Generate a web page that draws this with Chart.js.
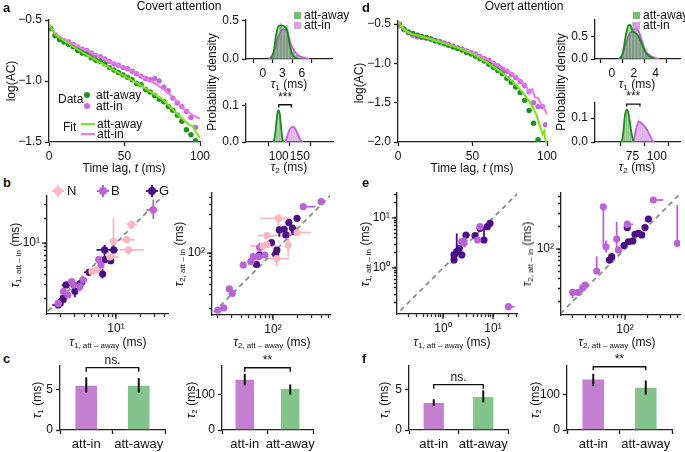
<!DOCTYPE html>
<html>
<head>
<meta charset="utf-8">
<title>Timescales: covert and overt attention</title>
<script src="https://cdn.jsdelivr.net/npm/chart.js@4"></script>
<style>
  body { margin:0; background:#fff; width:685px; height:452px; overflow:hidden; position:relative;
         font-family:'Liberation Sans', Arial, sans-serif; color:#111; }
  canvas { position:absolute; }
  .t { position:absolute; font-size:12px; white-space:nowrap; line-height:1; }
  .v { transform:translate(-50%,-50%) rotate(-90deg); }
  .c { transform:translateX(-50%); }
  .lt { font-weight:bold; font-size:13px; }
  .t sub { font-size:8px; vertical-align:-2px; }
  .m { position:absolute; }
</style>
</head>
<body>
<canvas id="cA"></canvas><canvas id="cHA1"></canvas><canvas id="cHA2"></canvas>
<canvas id="cD"></canvas><canvas id="cHD1"></canvas><canvas id="cHD2"></canvas>
<canvas id="cB1"></canvas><canvas id="cB2"></canvas><canvas id="cE1"></canvas><canvas id="cE2"></canvas>
<canvas id="cC1"></canvas><canvas id="cC2"></canvas><canvas id="cF1"></canvas><canvas id="cF2"></canvas>

<!-- panel letters and titles -->
<div class="t lt" style="left:3px;top:1px">a</div>
<div class="t c" style="left:179px;top:0px">Covert attention</div>
<div class="t lt" style="left:362px;top:1px">d</div>
<div class="t c" style="left:524px;top:0px">Overt attention</div>
<div class="t lt" style="left:3px;top:176px">b</div>
<div class="t lt" style="left:362px;top:176px">e</div>
<div class="t lt" style="left:3px;top:352px">c</div>
<div class="t lt" style="left:362px;top:352px">f</div>

<!-- a / d axis titles -->
<div class="t v" style="left:11px;top:81px">log(AC)</div>
<div class="t c" style="left:124px;top:162px">Time lag, <i>t</i> (ms)</div>
<div class="t v" style="left:212px;top:82px">Probability density</div>
<div class="t c" style="left:289px;top:78px"><i>τ</i><sub>1</sub> (ms)</div>
<div class="t c" style="left:289px;top:161px"><i>τ</i><sub>2</sub> (ms)</div>
<div class="t v" style="left:359px;top:83px">log(AC)</div>
<div class="t c" style="left:472px;top:162px">Time lag, <i>t</i> (ms)</div>
<div class="t v" style="left:561px;top:82px">Probability density</div>
<div class="t c" style="left:637px;top:78px"><i>τ</i><sub>1</sub> (ms)</div>
<div class="t c" style="left:637px;top:161px"><i>τ</i><sub>2</sub> (ms)</div>

<!-- a legend -->
<div class="t" style="left:58px;top:93px">Data</div>
<span class="m" style="left:84px;top:92px;width:6px;height:6px;border-radius:50%;background:#1f8f1f"></span>
<div class="t" style="left:96px;top:89px">att-away</div>
<span class="m" style="left:84px;top:103px;width:6px;height:6px;border-radius:50%;background:#bf6bd9"></span>
<div class="t" style="left:96px;top:100px">att-in</div>
<div class="t" style="left:63px;top:121px">Fit</div>
<span class="m" style="left:81px;top:123px;width:14px;height:2px;background:#7be31a"></span>
<div class="t" style="left:97px;top:118px">att-away</div>
<span class="m" style="left:81px;top:133px;width:14px;height:2px;background:#ee77ee"></span>
<div class="t" style="left:97px;top:128px">att-in</div>

<!-- histogram legends -->
<span class="m" style="left:294px;top:12px;width:7px;height:7px;background:rgba(70,170,70,0.75)"></span>
<div class="t" style="left:304px;top:9px">att-away</div>
<span class="m" style="left:294px;top:22px;width:7px;height:7px;background:rgba(205,130,225,0.75)"></span>
<div class="t" style="left:304px;top:19px">att-in</div>
<span class="m" style="left:633px;top:12px;width:7px;height:7px;background:rgba(70,170,70,0.75)"></span>
<div class="t" style="left:643px;top:9px">att-away</div>
<span class="m" style="left:633px;top:22px;width:7px;height:7px;background:rgba(205,130,225,0.75)"></span>
<div class="t" style="left:643px;top:19px">att-in</div>

<!-- b legend -->
<span class="m" style="left:52px;top:190px;width:12px;height:2px;background:#ffb6c1"></span>
<span class="m" style="left:57px;top:185px;width:2px;height:12px;background:#ffb6c1"></span>
<span class="m" style="left:54px;top:187px;width:8px;height:8px;border-radius:50%;background:#ffb6c1"></span>
<div class="t" style="left:67px;top:184px;font-size:13px">N</div>
<span class="m" style="left:97px;top:190px;width:12px;height:2px;background:#b963d6"></span>
<span class="m" style="left:102px;top:185px;width:2px;height:12px;background:#b963d6"></span>
<span class="m" style="left:99px;top:187px;width:8px;height:8px;border-radius:50%;background:#b963d6"></span>
<div class="t" style="left:111px;top:184px;font-size:13px">B</div>
<span class="m" style="left:146px;top:190px;width:12px;height:2px;background:#4b0d86"></span>
<span class="m" style="left:151px;top:185px;width:2px;height:12px;background:#4b0d86"></span>
<span class="m" style="left:148px;top:187px;width:8px;height:8px;border-radius:50%;background:#4b0d86"></span>
<div class="t" style="left:159px;top:184px;font-size:13px">G</div>

<!-- b / e axis titles -->
<div class="t v" style="left:16px;top:255px"><i>τ</i><sub>1, att – in</sub> (ms)</div>
<div class="t c" style="left:108px;top:336px"><i>τ</i><sub>1, att – away</sub> (ms)</div>
<div class="t v" style="left:180px;top:254px"><i>τ</i><sub>2, att – in</sub> (ms)</div>
<div class="t c" style="left:272px;top:336px"><i>τ</i><sub>2, att – away</sub> (ms)</div>
<div class="t v" style="left:366px;top:254px"><i>τ</i><sub>1, att – in</sub> (ms)</div>
<div class="t c" style="left:452px;top:336px"><i>τ</i><sub>1, att – away</sub> (ms)</div>
<div class="t v" style="left:528px;top:254px"><i>τ</i><sub>2, att – in</sub> (ms)</div>
<div class="t c" style="left:617px;top:336px"><i>τ</i><sub>2, att – away</sub> (ms)</div>

<!-- c / f axis titles -->
<div class="t v" style="left:38px;top:400px"><i>τ</i><sub>1</sub> (ms)</div>
<div class="t v" style="left:192px;top:400px"><i>τ</i><sub>2</sub> (ms)</div>
<div class="t v" style="left:385px;top:400px"><i>τ</i><sub>1</sub> (ms)</div>
<div class="t v" style="left:536px;top:400px"><i>τ</i><sub>2</sub> (ms)</div>

<script>
// ---------- data: log autocorrelation, covert (a) ----------
const a_t = [1,4,7,10,13,16,19,22,25,28,31,34,37,40,43,46,49,52,55,58,61,64,67,70,73,76,79,82,85,88,91,94,97];
const a_away = [-0.57,-0.63,-0.66,-0.68,-0.70,-0.72,-0.75,-0.77,-0.78,-0.81,-0.83,-0.84,-0.86,-0.89,-0.91,-0.93,-0.95,-0.97,-0.99,-1.02,-1.03,-1.07,-1.09,-1.12,-1.15,-1.17,-1.21,-1.24,-1.28,-1.33,-1.40,-1.44,-1.49];
const a_in = [-0.57,-0.62,-0.65,-0.67,-0.68,-0.70,-0.72,-0.74,-0.75,-0.77,-0.79,-0.80,-0.82,-0.84,-0.86,-0.87,-0.89,-0.90,-0.92,-0.94,-0.96,-0.98,-0.99,-0.98,-1.00,-1.05,-1.08,-1.14,-1.18,-1.21,-1.25,-1.30,-1.38];
const a_ft = [0,2,5,10,20,30,40,50,60,70,75,80,85,90,93,95,97,100];
const a_fit_away = [-0.53,-0.58,-0.63,-0.67,-0.75,-0.82,-0.89,-0.96,-1.03,-1.11,-1.15,-1.21,-1.27,-1.33,-1.36,-1.37,-1.41,-1.47];
const a_fit_in = [-0.54,-0.58,-0.62,-0.66,-0.72,-0.78,-0.84,-0.89,-0.95,-1.02,-1.06,-1.11,-1.17,-1.24,-1.26,-1.28,-1.29,-1.31];

// ---------- data: log autocorrelation, overt (d) ----------
const d_t_away = [1,4,7,10,13,16,19,22,25,28,31,34,37,40,43,46,49,52,55,58,61,64,67,70,73,76,79,82,85,88,91,94];
const d_away = [-0.50,-0.56,-0.60,-0.62,-0.64,-0.66,-0.67,-0.69,-0.71,-0.73,-0.75,-0.77,-0.79,-0.81,-0.83,-0.86,-0.88,-0.91,-0.94,-0.97,-1.01,-1.05,-1.09,-1.13,-1.19,-1.24,-1.30,-1.37,-1.47,-1.60,-1.76,-1.97];
const d_t_in = [1,4,7,10,13,16,19,22,25,28,31,34,37,40,43,46,49,52,55,58,61,64,67,70,73,76,79,82,85,88,91,94,97,99];
const d_in = [-0.52,-0.57,-0.61,-0.64,-0.66,-0.67,-0.68,-0.69,-0.71,-0.72,-0.74,-0.76,-0.78,-0.80,-0.82,-0.84,-0.86,-0.88,-0.91,-0.94,-0.96,-1.00,-1.03,-1.07,-1.10,-1.14,-1.18,-1.23,-1.28,-1.36,-1.50,-1.55,-1.55,-1.78];
const d_ft_away = [0,2,4,7,10,20,30,40,50,60,70,75,80,85,90,93,95,97,98,99,100];
const d_fit_away = [-0.44,-0.52,-0.57,-0.61,-0.63,-0.68,-0.74,-0.80,-0.88,-0.99,-1.12,-1.20,-1.29,-1.40,-1.54,-1.66,-1.78,-1.90,-1.86,-1.98,-2.05];
const d_ft_in = [0,2,5,10,20,30,40,50,60,70,75,80,84,86,88,90,92,94,96,98,100];
const d_fit_in = [-0.47,-0.53,-0.58,-0.63,-0.68,-0.73,-0.79,-0.86,-0.95,-1.05,-1.11,-1.18,-1.25,-1.28,-1.38,-1.33,-1.43,-1.44,-1.52,-1.56,-1.65];

// ---------- data: histograms + density curves ----------
const ha1_bx = [1.25,1.75,2.25,2.75,3.25,3.75,4.25,4.75,5.25,5.75,6.25];
const ha1_away = [0.02,0.10,0.30,0.44,0.32,0.45,0.22,0.10,0.06,0.02,0.005];
const ha1_in = [0.02,0.08,0.24,0.48,0.38,0.32,0.18,0.10,0.06,0.04,0.02];
const ha1_kx_away = [1.2,1.7,2.0,2.4,2.9,3.4,3.8,4.1,4.5,5.2,5.8];
const ha1_k_away = [0,0.11,0.30,0.43,0.44,0.42,0.36,0.20,0.07,0.01,0];
const ha1_kx_in = [1.0,1.7,2.2,2.75,3.25,3.8,4.3,4.8,5.5,6.2,7.2];
const ha1_k_in = [0,0.09,0.25,0.36,0.39,0.34,0.20,0.11,0.045,0.02,0.005];

const ha2_bx_away = [90,94,98,102,106,110];
const ha2_away = [0.01,0.05,0.09,0.08,0.03,0.005];
const ha2_bx_in = [118,122,126,130,134,138,142,146,150,154];
const ha2_in = [0.01,0.02,0.035,0.04,0.048,0.04,0.03,0.02,0.01,0.005];
const ha2_kx_away = [88,92,95,98,100,102.8,106,109,112];
const ha2_k_away = [0,0.025,0.062,0.085,0.087,0.075,0.035,0.007,0];
const ha2_kx_in = [116,120,126,132,138,144,150,156];
const ha2_k_in = [0,0.016,0.035,0.042,0.039,0.025,0.009,0.001];

const hd1_bx = [1.05,1.35,1.65,1.95,2.25,2.55,2.85,3.15,3.45,3.75];
const hd1_away = [0.08,0.40,0.62,0.83,0.55,0.50,0.38,0.25,0.10,0.04];
const hd1_in = [0.05,0.35,0.55,0.62,0.70,0.58,0.42,0.18,0.08,0.04];
const hd1_kx_away = [0.7,1.0,1.27,1.5,1.68,1.88,2.1,2.4,2.7,3.1,3.5,3.9];
const hd1_k_away = [0,0.14,0.52,0.74,0.76,0.63,0.59,0.52,0.36,0.14,0.05,0.01];
const hd1_kx_in = [0.6,1.0,1.3,1.6,1.9,2.2,2.5,2.8,3.1,3.5,4.0,4.3];
const hd1_k_in = [0,0.10,0.36,0.55,0.63,0.68,0.59,0.36,0.17,0.08,0.02,0];

const hd2_bx_away = [63,65,67,69,71,73,75];
const hd2_away = [0.005,0.025,0.09,0.14,0.12,0.07,0.02];
const hd2_bx_in = [77,79,81,83,85,87,89,91,93,95];
const hd2_in = [0.02,0.06,0.10,0.085,0.07,0.065,0.055,0.04,0.025,0.01];
const hd2_kx_away = [63.5,65.2,67,68.7,70.4,72,73.8,75.5,77.2];
const hd2_k_away = [0,0.024,0.10,0.135,0.128,0.093,0.044,0.01,0];
const hd2_kx_in = [74.7,76.4,79,81.5,83.2,86.6,90,92.6,95.2,97];
const hd2_k_in = [0,0.01,0.058,0.086,0.082,0.068,0.051,0.03,0.01,0];

// ---------- data: per-session timescales  [x, y, xLo, xHi, yLo, yHi] ----------
const bL_N = [[15.6,17.1,13.5,18.5,null,null],[9.3,10.5,null,null,6.7,20.3],[13.6,11.0,10.8,17,null,null],
  [14.3,8.2,11,22.5,7.2,9.2],[8.4,6.7,7.4,10.8,null,null],[5.7,4.6,4.8,6.8,null,null],[5.0,4.4,null,null,null,null]];
const bL_B = [[2.2,2.47,null,null,2.1,2.8],[2.8,3.29,2.5,3.1,null,null],[3.55,2.85,null,null,2.5,3.2],[2.93,2.99,null,null,null,null],
  [6.1,6.2,5.5,6.8,null,null],[6.5,5.3,null,null,null,null],[29.3,25.9,24,33,20,35],[3.9,3.45,3.5,4.4,null,null],
  [2.5,2.24,null,null,null,null],[1.9,1.75,null,null,null,null]];
const bL_G = [[2.04,1.85,1.75,2.4,1.6,2.2],[2.2,2.03,null,null,1.8,2.4],[2.38,2.99,2.1,2.8,null,null],[3.07,2.5,null,null,2.1,2.9],
  [3.55,3.1,3.0,4.1,null,null],[4.6,4.3,4.0,5.3,null,null],[6.8,4.1,null,null,3.6,4.8],[7.2,6.2,5.8,8.3,null,null],
  [8.6,6.0,null,null,null,null],[7.2,8.2,5.7,9.3,6.8,9.5],[9.4,8.2,8.2,10.5,null,null],[1.9,1.68,1.6,2.2,null,null]];

const bR_N = [[117,271,69,166,210,310],[200,180,130,300,null,null],[75,122,52,110,null,null],[111,85,80,160,68,115],
  [84,165,65,150,null,null],[155,125,null,null,90,170],[84,128,null,null,null,null]];
const bR_B = [[20.5,19.4,null,null,null,null],[24.3,20.6,null,null,null,null],[28.5,35.6,null,null,null,null],[31,31.3,null,null,null,null],
  [42.5,70.8,null,null,null,null],[53,78,null,null,null,null],[56.7,90,null,null,80,100],[68,117,null,null,100,135],
  [79.4,94.4,null,null,null,null],[239,379,225,340,null,null],[400,438,null,null,null,null],[66,90,null,null,null,null]];
const bR_G = [[62,72,null,null,null,null],[68,94,null,null,null,null],[96,135,null,null,null,null],[108,96,null,null,null,null],
  [112,109,null,null,null,null],[120,194,null,null,160,215],[138,198,null,null,null,null],[145,168,null,null,null,null],
  [158,240,null,null,null,null],[175,205,null,null,null,null],[186,185,null,null,null,null],[200,271,null,null,null,null]];

const eL_B = [[2.37,3.36,null,null,null,null],[2.55,3.12,null,null,null,null],[2.63,3.47,null,null,null,null],
  [4.94,3.63,null,null,null,null],[5.5,6.7,null,null,5.5,7.5],[20.3,0.168,20.3,27,null,null]];
const eL_G = [[1.66,1.45,1.5,1.9,null,null],[1.66,1.82,null,null,null,null],[1.88,2.12,null,null,1.68,4.9],[2.12,2.47,null,null,null,null],
  [2.88,4.57,2.5,3.4,null,null],[4.37,4.44,null,null,null,null],[6.6,3.63,null,null,3.2,6.5],[7.7,6.7,null,null,null,null],
  [8.7,7.8,null,null,null,null],[5.5,6.2,null,null,null,null],[2.37,1.82,2.1,2.7,null,null]];

const eR_B = [[20,26.4,null,null,22,29],[23.9,26.4,null,null,null,null],[27.3,30.5,null,null,null,null],[29.3,33.1,null,null,null,null],
  [41.9,50.9,null,null,50.9,80],[51.4,366,null,null,110,366],[55.8,107,null,null,90,130],[77.4,136,null,null,100,230],
  [81.5,97,null,null,null,null],[107,213,107,128,190,240],[239,450,239,324,null,null],[498,119,null,null,119,386]];
const eR_G = [[61.8,71.3,null,null,null,null],[66.4,79,null,null,null,null],[97,111,null,null,null,null],[111,125,null,null,null,null],
  [107,193,null,null,null,null],[136,157,null,null,null,null],[151,162,null,null,null,null],[167,154,null,null,null,null],
  [185,193,null,null,null,null],[205,251,null,null,null,null],[127,128,null,null,null,null]];

// ---------- data: mean timescales (bars) ----------
const conds = ['att-in', 'att-away'];
const c_tau1 = [5.6, 5.6], c_tau1_lo = [4.6, 4.6], c_tau1_hi = [6.5, 6.4];
const c_tau2 = [145, 119], c_tau2_lo = [126, 100], c_tau2_hi = [159, 129];
const f_tau1 = [3.45, 4.2], f_tau1_lo = [3.0, 3.4], f_tau1_hi = [3.8, 4.9];
const f_tau2 = [146, 122], f_tau2_lo = [124, 100], f_tau2_hi = [159, 140];

// ---------- helpers ----------
const FONT = "'Liberation Sans', Arial, sans-serif";
const AX = '#222';
const GREEN = '#1f8f1f', VIOLET = '#bf6bd9', LGREEN = '#7be31a', PINK = '#ee77ee';
const C_N = '#ffb6c1', C_B = '#b963d6', C_G = '#4b0d86';
const xy = (xs, ys) => xs.map((x, i) => ({x, y: ys[i]}));
const minus = v => (v < 0 ? '\u2212' : '') + Math.abs(v).toFixed(1);
const sup = v => v === 1 ? '10\u2070' : v === 10 ? '10\u00b9' : v === 100 ? '10\u00b2' : '';
const logTicks = (lo, hi) => { const r = []; for (let d = lo; d < hi; d *= 10) for (let k = 1; k < 10; k++) r.push(+(k * d).toPrecision(3)); return r; };

function ax(type, min, max, ticks, fmt, tl) {
  const o = {
    type, min, max, bounds: 'data',
    border: {color: AX, width: 1.3},
    grid: {drawOnChartArea: false, color: AX, tickLength: tl || 4, tickWidth: 1.3},
    ticks: {color: '#111', font: {family: FONT, size: 12}, padding: tl ? 7 - tl : 3, maxRotation: 0, autoSkip: false}
  };
  if (fmt) o.ticks.callback = fmt;
  if (ticks) o.afterBuildTicks = s => { s.ticks = ticks.map(v => ({value: v})); };
  return o;
}

function mk(id, box, type, data, xOpt, yOpt, plugins) {
  const [l, t, r, b, pl, pt, pr, pb] = box;
  const c = document.getElementById(id);
  c.width = r - l + pl + pr; c.height = b - t + pt + pb;
  c.style.left = (l - pl) + 'px'; c.style.top = (t - pt) + 'px';
  xOpt.afterFit = s => { s.height = pb; s.paddingLeft = 0; s.paddingRight = 0; };
  yOpt.afterFit = s => { s.width = pl; s.paddingTop = 0; s.paddingBottom = 0; };
  return new Chart(c, {
    type, data,
    options: {
      responsive: false, animation: false,
      layout: {padding: {left: 0, top: pt, right: pr, bottom: 0}},
      plugins: {legend: {display: false}, tooltip: {enabled: false}},
      scales: {x: xOpt, y: yOpt}
    },
    plugins: plugins || []
  });
}

// bracket with stars / ns. between two x values
function bracket(x0, x1, yTop, yDrop, label) {
  return {
    id: 'bracket',
    afterDatasetsDraw(ch) {
      const ctx = ch.ctx, xs = ch.scales.x, ys = ch.scales.y;
      const p0 = xs.getPixelForValue(x0), p1 = xs.getPixelForValue(x1);
      const yt = ys.getPixelForValue(yTop), yd = ys.getPixelForValue(yDrop);
      ctx.save();
      ctx.strokeStyle = '#111'; ctx.lineWidth = 1.4;
      ctx.beginPath(); ctx.moveTo(p0, yd); ctx.lineTo(p0, yt); ctx.lineTo(p1, yt); ctx.lineTo(p1, yd); ctx.stroke();
      ctx.fillStyle = '#111'; ctx.font = '12px ' + FONT; ctx.textAlign = 'center'; ctx.textBaseline = 'bottom';
      ctx.fillText(label, (p0 + p1) / 2, yt - 1);
      ctx.restore();
    }
  };
}

// vertical error bars on bar charts
function barErr(lo, hi) {
  return {
    id: 'barErr',
    afterDatasetsDraw(ch) {
      const ctx = ch.ctx, xs = ch.scales.x, ys = ch.scales.y;
      ctx.save(); ctx.strokeStyle = '#111'; ctx.lineWidth = 2;
      lo.forEach((v, i) => {
        const x = xs.getPixelForValue(i);
        ctx.beginPath(); ctx.moveTo(x, ys.getPixelForValue(v)); ctx.lineTo(x, ys.getPixelForValue(hi[i])); ctx.stroke();
      });
      ctx.restore();
    }
  };
}

// cross error bars for scatter points, drawn under the markers; longer marks for decades
const crossErr = {
  id: 'crossErr',
  beforeDatasetsDraw(ch) {
    const ctx = ch.ctx, xs = ch.scales.x, ys = ch.scales.y, a = ch.chartArea;
    ctx.save();
    ctx.beginPath(); ctx.rect(a.left, a.top, a.right - a.left, a.bottom - a.top); ctx.clip();
    ch.data.datasets.forEach(ds => {
      if (!ds.pts) return;
      ctx.strokeStyle = ds.backgroundColor; ctx.lineWidth = 1.8;
      ds.pts.forEach(p => {
        const x = xs.getPixelForValue(p[0]), y = ys.getPixelForValue(p[1]);
        if (p[2] != null) { ctx.beginPath(); ctx.moveTo(xs.getPixelForValue(p[2]), y); ctx.lineTo(xs.getPixelForValue(p[3]), y); ctx.stroke(); }
        if (p[4] != null) { ctx.beginPath(); ctx.moveTo(x, ys.getPixelForValue(p[4])); ctx.lineTo(x, ys.getPixelForValue(p[5])); ctx.stroke(); }
      });
    });
    ctx.restore();
  },
  afterDraw(ch) {
    const ctx = ch.ctx, xs = ch.scales.x, ys = ch.scales.y, a = ch.chartArea;
    ctx.save(); ctx.strokeStyle = AX; ctx.lineWidth = 1.3;
    [1, 10, 100].forEach(v => {
      if (v > xs.min && v < xs.max) { const x = xs.getPixelForValue(v); ctx.beginPath(); ctx.moveTo(x, a.bottom); ctx.lineTo(x, a.bottom + 5); ctx.stroke(); }
      if (v > ys.min && v < ys.max) { const y = ys.getPixelForValue(v); ctx.beginPath(); ctx.moveTo(a.left, y); ctx.lineTo(a.left - 5, y); ctx.stroke(); }
    });
    ctx.restore();
  }
};

// ---------- a / d : log(AC) ----------
function acChart(id, box, tA, vA, tI, vI, ftA, fA, ftI, fI, ymin, ymax, yt) {
  return mk(id, box, 'scatter', {
    datasets: [
      {data: xy(ftA, fA), showLine: true, borderColor: LGREEN, borderWidth: 2, pointRadius: 0},
      {data: xy(ftI, fI), showLine: true, borderColor: PINK, borderWidth: 2, pointRadius: 0},
      {data: xy(tA, vA), backgroundColor: GREEN, borderWidth: 0, pointRadius: 2.7},
      {data: xy(tI, vI), backgroundColor: VIOLET, borderWidth: 0, pointRadius: 2.7}
    ]
  }, ax('linear', 0, 100, [0, 50, 100], v => String(v)), ax('linear', ymin, ymax, yt, minus));
}
acChart('cA', [49, 20, 200, 142, 49, 12, 14, 22], a_t, a_away, a_t, a_in, a_ft, a_fit_away, a_ft, a_fit_in, -1.5, -0.5, [-1.5, -1.0, -0.5]);
acChart('cD', [398, 21, 547, 142, 46, 12, 14, 22], d_t_away, d_away, d_t_in, d_in, d_ft_away, d_fit_away, d_ft_in, d_fit_in, -2.0, -0.46, [-2.0, -1.5, -1.0, -0.5]);

// ---------- histograms ----------
function histChart(id, box, bxA, hA, bxI, hI, kxA, kA, kxI, kI, xmin, xmax, xt, ymax, yt, plugins) {
  return mk(id, box, 'bar', {
    datasets: [
      {type: 'line', data: xy(kxA, kA), borderColor: '#1e8a1e', borderWidth: 1.8, pointRadius: 0, cubicInterpolationMode: 'monotone', fill: 'origin', backgroundColor: 'rgba(40,140,40,0.35)'},
      {type: 'line', data: xy(kxI, kI), borderColor: '#c064d8', borderWidth: 1.8, pointRadius: 0, cubicInterpolationMode: 'monotone', fill: 'origin', backgroundColor: 'rgba(190,100,210,0.35)'},
      {data: xy(bxA, hA), grouped: false, barPercentage: 1, categoryPercentage: 1, backgroundColor: 'rgba(80,175,80,0.45)', borderColor: 'rgba(255,255,255,0.7)', borderWidth: 0.8},
      {data: xy(bxI, hI), grouped: false, barPercentage: 1, categoryPercentage: 1, backgroundColor: 'rgba(205,130,225,0.45)', borderColor: 'rgba(255,255,255,0.7)', borderWidth: 0.8}
    ]
  }, ax('linear', xmin, xmax, xt, v => String(v)), ax('linear', 0, ymax, yt, v => v.toFixed(1)), plugins);
}
histChart('cHA1', [246, 20, 332, 59, 30, 10, 8, 20], ha1_bx, ha1_away, ha1_bx, ha1_in, ha1_kx_away, ha1_k_away, ha1_kx_in, ha1_k_in,
  -0.4, 8.45, [0, 3, 6], 0.51, [0, 0.5]);
histChart('cHA2', [246, 104, 333, 142, 30, 16, 8, 20], ha2_bx_away, ha2_away, ha2_bx_in, ha2_in, ha2_kx_away, ha2_k_away, ha2_kx_in, ha2_k_in,
  74, 177, [100, 150], 0.105, [0, 0.1], [bracket(100, 130, 0.103, 0.095, '***')]);
histChart('cHD1', [595, 20, 680, 59, 30, 10, 5, 20], hd1_bx, hd1_away, hd1_bx, hd1_in, hd1_kx_away, hd1_k_away, hd1_kx_in, hd1_k_in,
  -0.25, 4.94, [0, 2, 4], 0.87, [0, 0.5]);
histChart('cHD2', [595, 103, 680, 142, 30, 16, 5, 20], hd2_bx_away, hd2_away, hd2_bx_in, hd2_in, hd2_kx_away, hd2_k_away, hd2_kx_in, hd2_k_in,
  58.4, 102, [75, 100], 0.1625, [0, 0.1], [bracket(69, 82.7, 0.158, 0.148, '***')]);

// ---------- b / e : scatter, log-log ----------
function scatterChart(id, box, groups, xmin, xmax, ymin, ymax, decLo, decHi) {
  const ds = groups.map(([pts, col]) => ({data: pts.map(p => ({x: p[0], y: p[1]})), pts, backgroundColor: col, borderWidth: 0, pointRadius: 3.6}));
  ds.push({data: [{x: 0.01, y: 0.01}, {x: 10000, y: 10000}], showLine: true, borderColor: '#8a8a8a', borderWidth: 1.7, borderDash: [5, 4], pointRadius: 0});
  const tk = logTicks(decLo, decHi);
  return mk(id, box, 'scatter', {datasets: ds},
    ax('logarithmic', xmin, xmax, tk.filter(v => v >= xmin && v <= xmax), sup, 3),
    ax('logarithmic', ymin, ymax, tk.filter(v => v >= ymin && v <= ymax), sup, 3), [crossErr]);
}
scatterChart('cB1', [47, 196, 168, 314, 30, 8, 8, 22], [[bL_N, C_N], [bL_B, C_B], [bL_G, C_G]], 1.373, 44.7, 1.296, 38.7, 1, 100);
scatterChart('cB2', [212, 193, 330, 315, 30, 8, 8, 22], [[bR_N, C_N], [bR_B, C_B], [bR_G, C_G]], 17.3, 516, 16.8, 562, 10, 1000);
scatterChart('cE1', [397, 193, 517, 314, 30, 8, 8, 22], [[eL_B, C_B], [eL_G, C_G]], 0.12, 30.2, 0.12, 31.6, 0.1, 100);
scatterChart('cE2', [561, 193, 680, 315, 30, 8, 5, 22], [[eR_B, C_B], [eR_G, C_G]], 14, 541, 13.2, 558, 10, 1000);

// ---------- c / f : bars ----------
function barChart(id, box, vals, lo, hi, ymax, yt, br) {
  const xo = ax('category', undefined, undefined, null, null);
  xo.offset = true;
  xo.ticks.font = {family: FONT, size: 13};
  return mk(id, box, 'bar', {
    labels: conds,
    datasets: [{data: vals, backgroundColor: ['#c47fd1', '#82c48c'], borderColor: 'rgba(255,255,255,0.6)', borderWidth: 1, barPercentage: 0.45, categoryPercentage: 1}]
  }, xo, ax('linear', 0, ymax, yt, v => String(v)), [barErr(lo, hi), bracket(0, 1, br[0], br[1], br[2])]);
}
barChart('cC1', [60, 366, 165, 430, 20, 18, 8, 22], c_tau1, c_tau1_lo, c_tau1_hi, 7.9, [0, 5], [7.7, 7.2, 'ns.']);
barChart('cC2', [222, 366, 313, 430, 30, 18, 8, 22], c_tau2, c_tau2_lo, c_tau2_hi, 181, [0, 100], [176, 165, '**']);
barChart('cF1', [409, 366, 508, 430, 20, 18, 8, 22], f_tau1, f_tau1_lo, f_tau1_hi, 7.9, [0, 5], [5.6, 5.1, 'ns.']);
barChart('cF2', [567, 366, 672, 430, 30, 18, 10, 22], f_tau2, f_tau2_lo, f_tau2_hi, 181, [0, 100], [179, 169, '**']);
</script>
</body>
</html>
